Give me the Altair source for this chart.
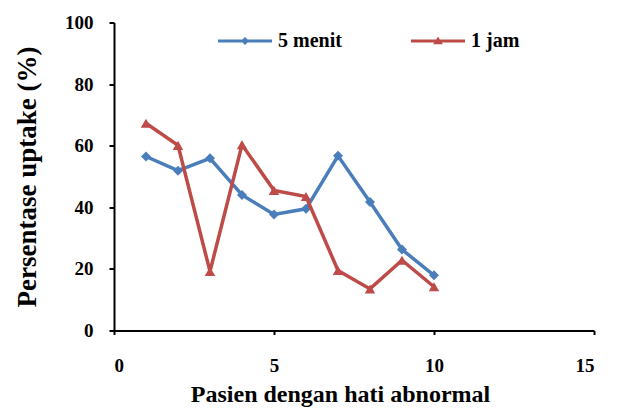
import altair as alt
import pandas as pd

patients = [1, 2, 3, 4, 5, 6, 7, 8, 9, 10]
menit5 = [56.5, 51.9, 55.9, 44.0, 37.7, 39.5, 56.7, 41.7, 26.3, 17.9]
jam1 = [67.3, 60.1, 19.2, 60.3, 45.5, 43.5, 19.5, 13.5, 22.8, 14.2]
series_names = ["5 menit", "1 jam"]
series_colors = ["#4A7EBB", "#BE4B48"]
series_shapes = ["diamond", "triangle-up"]
series_sizes = [100, 110]

rows = []
for name, vals in zip(series_names, [menit5, jam1]):
    for p, v in zip(patients, vals):
        rows.append({"pasien": p, "uptake": v, "series": name})
df = pd.DataFrame(rows)

FONT = "'Liberation Serif', 'Times New Roman', 'DejaVu Serif', serif"

x = alt.X("pasien:Q", scale=alt.Scale(domain=[0, 15]),
          axis=alt.Axis(values=[0, 5, 10, 15], title="Pasien dengan hati abnormal",
                        grid=False, tickSize=4, labelPadding=22, titlePadding=7,
                        labelFontSize=19, titleFontSize=24, titleX=226))
y = alt.Y("uptake:Q", scale=alt.Scale(domain=[0, 100]),
          axis=alt.Axis(values=[0, 20, 40, 60, 80, 100], title="Persentase uptake (%)",
                        grid=False, tickSize=5, labelPadding=16, titlePadding=23,
                        labelFontSize=19, titleFontSize=27))

base = alt.Chart(df)

layers = []
for name, col, shp, sz in zip(series_names, series_colors, series_shapes, series_sizes):
    sub = base.transform_filter(alt.datum.series == name)
    layers.append(sub.mark_line(strokeWidth=3.5, color=col).encode(x=x, y=y))
    layers.append(sub.mark_point(filled=True, size=sz, shape=shp, color=col, opacity=1).encode(x=x, y=y))

leg_diamond = "M-1,-0.055H1V0.055H-1Z M0,-0.15L0.15,0L0,0.15L-0.15,0Z"
leg_triangle = "M-1,-0.055H1V0.055H-1Z M0,-0.17L0.18,0.12L-0.18,0.12Z"

leg_props = dict(title=None, orient="none", direction="horizontal",
                 legendX=103, legendY=-9.5, symbolSize=2916,
                 labelOffset=5, columnPadding=68,
                 labelFontSize=20, labelFont=FONT, labelFontWeight="bold",
                 labelColor="black")

legend_layer = base.transform_filter("false").mark_point(filled=True, size=2916, opacity=1).encode(
    x=x, y=y,
    color=alt.Color("series:N", scale=alt.Scale(domain=series_names, range=series_colors),
                    legend=alt.Legend(**leg_props)),
    shape=alt.Shape("series:N", scale=alt.Scale(domain=series_names, range=[leg_diamond, leg_triangle]),
                    legend=alt.Legend(**leg_props)),
)
layers.append(legend_layer)

chart = alt.layer(*layers).properties(
    width=480, height=308,
    autosize=alt.AutoSizeParams(type="none"),
    padding={"left": 106, "top": 14.5, "right": 10, "bottom": 77.5},
).configure(font=FONT).configure_view(stroke=None).configure_axis(
    labelFont=FONT, titleFont=FONT, labelFontWeight="bold", titleFontWeight="bold",
    labelColor="black", titleColor="black", domainColor="black", tickColor="black",
    domainWidth=2, tickWidth=2,
)

chart.save("out.html", embed_options={"renderer": "svg", "actions": False})
